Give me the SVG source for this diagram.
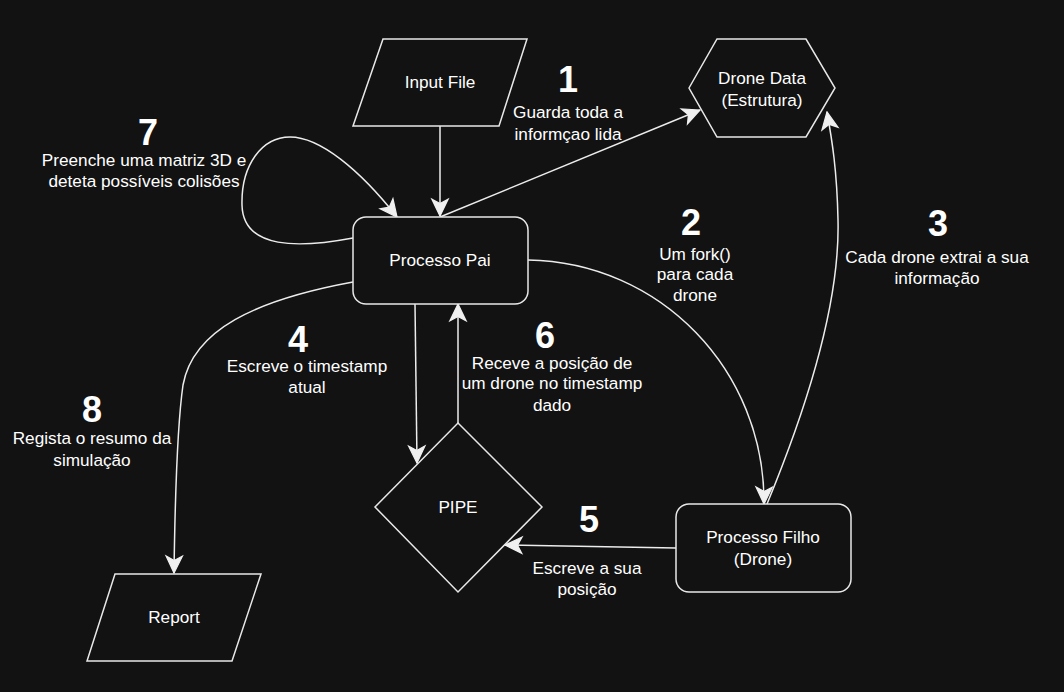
<svg xmlns="http://www.w3.org/2000/svg" width="1064" height="692" viewBox="0 0 1064 692">
<defs>
<marker id="arr" markerUnits="userSpaceOnUse" markerWidth="20" markerHeight="20" viewBox="-15 -8 16 16" refX="0" refY="0" orient="auto">
<path d="M0,0 L-13.5,-6.5 L-10,0 L-13.5,6.5 Z" fill="#f0f0f0" stroke="#f0f0f0" stroke-width="1"/>
</marker>
</defs>
<style>
.shape{fill:#121212;stroke:#e8e8e8;stroke-width:1.5}
.edge{fill:none;stroke:#ececec;stroke-width:1.5;marker-end:url(#arr)}
.t{font-family:"Liberation Sans",Arial,sans-serif;font-size:17.2px;fill:#ffffff;text-anchor:middle}
.n{font-family:"Liberation Sans",Arial,sans-serif;font-size:36px;font-weight:bold;fill:#ffffff;text-anchor:middle}
</style>
<rect x="0" y="0" width="1064" height="692" fill="#121212"/>
<g id="connectors">
<path class="edge" d="M440,126 L440,216"/>
<path class="edge" d="M440,217 L700,110"/>
<path class="edge" d="M353,238 C300,248 243,250 242,205 C241,165 262,137 290,137 C320,137 360,170 397,217"/>
<path class="edge" d="M353,282 C255,300 193,330 183,385 C178,420 175,500 174,573"/>
<path class="edge" d="M415,304 L417,463"/>
<path class="edge" d="M458,423 L458,304"/>
<path class="edge" d="M528,260 C660,262 765,370 764,504"/>
<path class="edge" d="M767,504 C810,400 840,300 838,220 C837,170 832,140 827,112"/>
<path class="edge" d="M676,548 L505,545"/>
</g>
<g id="input-file">
<polygon class="shape" points="383,39 527,39 499,126 353,126"/>
<text class="t" x="440" y="88">Input File</text>
</g>
<g id="drone-data">
<polygon class="shape" points="689,88 717,39 806,39 835,88 806,137 717,137"/>
<text class="t" x="762" y="84">Drone Data</text>
<text class="t" x="762" y="106">(Estrutura)</text>
</g>
<g id="processo-pai">
<rect class="shape" x="353" y="217" width="175" height="87" rx="13"/>
<text class="t" x="440" y="266">Processo Pai</text>
</g>
<g id="pipe">
<polygon class="shape" points="458,423 542,507 458,592 375,507"/>
<text class="t" x="458" y="513">PIPE</text>
</g>
<g id="processo-filho">
<rect class="shape" x="676" y="504" width="175" height="88" rx="13"/>
<text class="t" x="763" y="543">Processo Filho</text>
<text class="t" x="763" y="565">(Drone)</text>
</g>
<g id="report">
<polygon class="shape" points="115,574 261,574 232,661 87,661"/>
<text class="t" x="174" y="623">Report</text>
</g>
<g id="label-1">
<text class="n" x="568" y="92">1</text>
<text class="t" x="568" y="118">Guarda toda a</text>
<text class="t" x="568" y="140">informçao lida</text>
</g>
<g id="label-2">
<text class="n" x="691" y="235">2</text>
<text class="t" x="695" y="260">Um fork()</text>
<text class="t" x="695" y="280">para cada</text>
<text class="t" x="695" y="301">drone</text>
</g>
<g id="label-3">
<text class="n" x="938" y="236">3</text>
<text class="t" x="937" y="263">Cada drone extrai a sua</text>
<text class="t" x="937" y="284">informação</text>
</g>
<g id="label-4">
<text class="n" x="298" y="352">4</text>
<text class="t" x="307" y="372">Escreve o timestamp</text>
<text class="t" x="307" y="393">atual</text>
</g>
<g id="label-5">
<text class="n" x="589" y="532">5</text>
<text class="t" x="587" y="574">Escreve a sua</text>
<text class="t" x="587" y="595">posição</text>
</g>
<g id="label-6">
<text class="n" x="545" y="348">6</text>
<text class="t" x="552" y="369">Receve a posição de</text>
<text class="t" x="552" y="389">um drone no timestamp</text>
<text class="t" x="552" y="411">dado</text>
</g>
<g id="label-7">
<text class="n" x="148" y="145">7</text>
<text class="t" x="144" y="166">Preenche uma matriz 3D e</text>
<text class="t" x="144" y="187">deteta possíveis colisões</text>
</g>
<g id="label-8">
<text class="n" x="92" y="422">8</text>
<text class="t" x="92" y="444">Regista o resumo da</text>
<text class="t" x="92" y="466">simulação</text>
</g>
</svg>
